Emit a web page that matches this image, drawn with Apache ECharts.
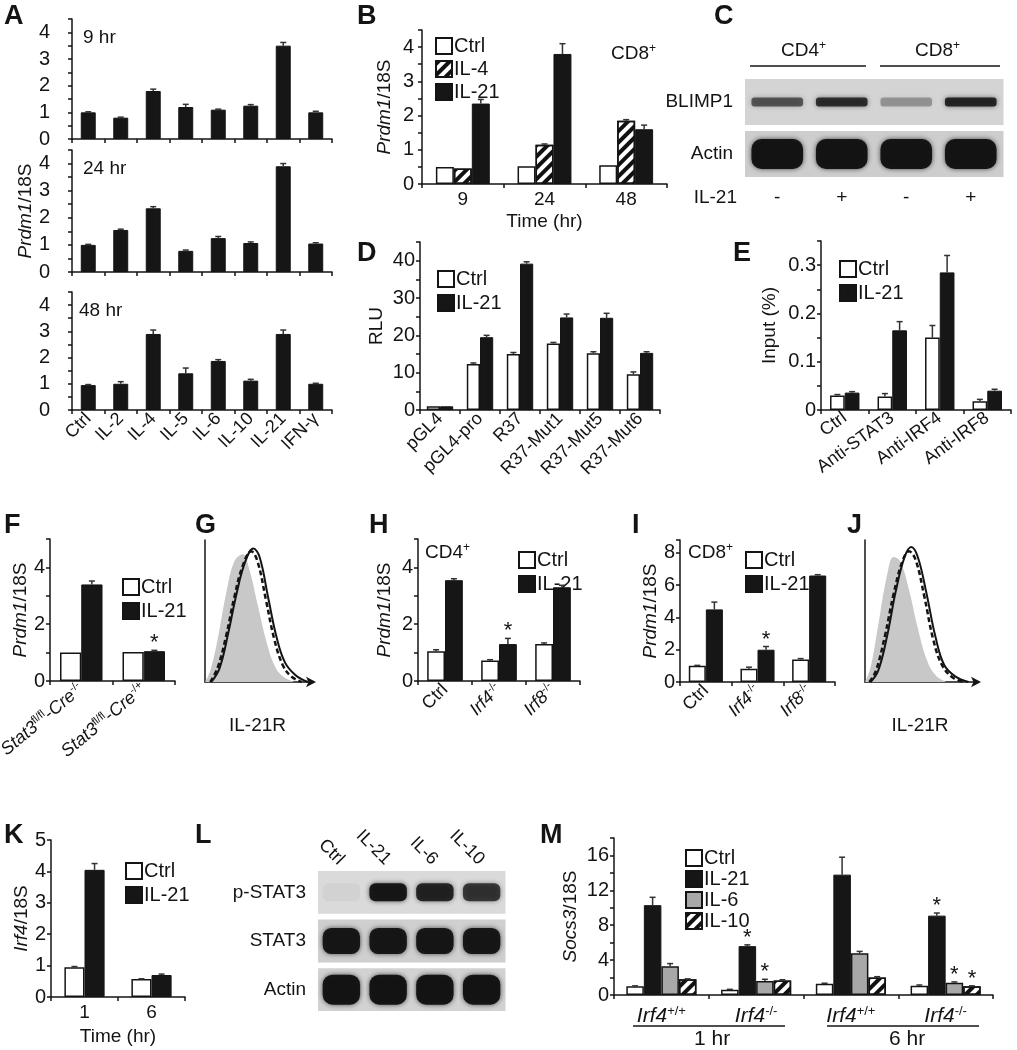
<!DOCTYPE html>
<html>
<head>
<meta charset="utf-8">
<script src="https://cdn.jsdelivr.net/npm/echarts/dist/echarts.min.js"></script>
<style>
  html, body { margin: 0; padding: 0; background: #fff; }
  #fig { width: 1017px; height: 1050px; }
</style>
</head>
<body>
<div id="fig"></div>
<script>
// ---------- data ----------
const cytokines = ['Ctrl', 'IL-2', 'IL-4', 'IL-5', 'IL-6', 'IL-10', 'IL-21', 'IFN-γ'];
const a9 = [1.0, 0.8, 1.8, 1.2, 1.1, 1.25, 3.5, 1.0];
const a9Err = [0.02, 0.02, 0.07, 0.1, 0.02, 0.04, 0.12, 0.04];
const a24 = [1.0, 1.55, 2.35, 0.78, 1.25, 1.07, 3.9, 1.05];
const a24Err = [0.02, 0.03, 0.06, 0.03, 0.06, 0.04, 0.1, 0.03];
const a48 = [0.95, 1.0, 2.9, 1.4, 1.87, 1.12, 2.9, 1.0];
const a48Err = [0.02, 0.08, 0.15, 0.2, 0.05, 0.05, 0.15, 0.02];

const bTimes = ['9', '24', '48'];
const bCtrl = [0.5, 0.52, 0.55];
const bIL4 = [0.45, 1.15, 1.85];
const bIL4Err = [0, 0.02, 0.03];
const bIL21 = [2.35, 3.8, 1.6];
const bIL21Err = [0.12, 0.3, 0.12];

const cLanes = ['-', '+', '-', '+'];
const cRows = ['BLIMP1', 'Actin'];
const cBands = [[0.6, 0.8, 0.3, 0.85], [0.97, 0.97, 0.97, 0.97]];

const dConstructs = ['pGL4', 'pGL4-pro', 'R37', 'R37-Mut1', 'R37-Mut5', 'R37-Mut6'];
const dCtrl = [1, 12.3, 15, 17.8, 15.2, 9.6];
const dCtrlErr = [0, 0.3, 0.4, 0.3, 0.4, 0.6];
const dIL21 = [1, 19.5, 39.2, 24.8, 24.7, 15.3];
const dIL21Err = [0, 0.5, 0.5, 0.9, 1.2, 0.3];

const eAntibodies = ['Ctrl', 'Anti-STAT3', 'Anti-IRF4', 'Anti-IRF8'];
const eCtrl = [0.03, 0.028, 0.15, 0.018];
const eCtrlErr = [0.002, 0.006, 0.025, 0.004];
const eIL21 = [0.036, 0.165, 0.285, 0.04];
const eIL21Err = [0.002, 0.018, 0.035, 0.003];

const fMice = ['Stat3fl/fl-Cre-/-', 'Stat3fl/fl-Cre-/+'];
const fCtrl = [1.0, 1.02];
const fIL21 = [3.4, 1.05];
const fIL21Err = [0.12, 0.03];
const fStar = [0, 1];

// flow histograms: [IL-21R intensity, % of max]
const gIsotype = [[0, 0], [5, 8], [12, 30], [20, 62], [28, 85], [36, 90], [42, 80], [50, 55], [58, 30], [66, 12], [74, 4], [85, 0]];
const gDashed = [[5, 0], [12, 10], [20, 32], [28, 60], [36, 82], [44, 92], [50, 85], [58, 58], [66, 30], [74, 12], [82, 4], [92, 0]];
const gSolid = [[6, 0], [14, 10], [22, 34], [30, 62], [38, 84], [46, 94], [52, 88], [60, 60], [68, 32], [76, 14], [86, 5], [98, 0]];
const jIsotype = [[0, 0], [5, 10], [12, 40], [20, 75], [26, 88], [32, 85], [40, 65], [48, 38], [56, 16], [64, 5], [74, 0]];
const jDashed = [[4, 0], [10, 8], [18, 32], [26, 62], [34, 85], [40, 92], [46, 86], [54, 60], [62, 30], [70, 12], [80, 3], [90, 0]];
const jSolid = [[5, 0], [12, 8], [20, 32], [28, 64], [36, 88], [42, 95], [48, 88], [56, 62], [64, 32], [72, 12], [82, 4], [94, 0]];

const hMice = ['Ctrl', 'Irf4-/-', 'Irf8-/-'];
const hCtrl = [1.05, 0.72, 1.3];
const hCtrlErr = [0.05, 0.03, 0.04];
const hIL21 = [3.55, 1.3, 3.3];
const hIL21Err = [0.05, 0.2, 0.07];
const hStar = [0, 1, 0];

const iCtrl = [1.0, 0.82, 1.4];
const iCtrlErr = [0.03, 0.1, 0.05];
const iIL21 = [4.5, 2.0, 6.6];
const iIL21Err = [0.45, 0.2, 0.05];
const iStar = [0, 1, 0];

const kTimes = ['1', '6'];
const kCtrl = [0.95, 0.57];
const kCtrlErr = [0.02, 0.01];
const kIL21 = [4.05, 0.7];
const kIL21Err = [0.2, 0.03];

const lLanes = ['Ctrl', 'IL-21', 'IL-6', 'IL-10'];
const lRows = ['p-STAT3', 'STAT3', 'Actin'];
const lBands = [[0.04, 0.95, 0.85, 0.75], [0.95, 0.95, 0.95, 0.95], [0.97, 0.97, 0.97, 0.97]];

const mGroups = ['Irf4+/+', 'Irf4-/-', 'Irf4+/+', 'Irf4-/-'];
const mCtrl = [1.0, 0.6, 1.3, 1.05];
const mCtrlErr = [0.05, 0.05, 0.05, 0.1];
const mIL21 = [10.3, 5.6, 13.8, 9.1];
const mIL21Err = [0.9, 0.15, 2.0, 0.3];
const mIL21Star = [0, 1, 0, 1];
const mIL6 = [3.3, 1.6, 4.8, 1.4];
const mIL6Err = [0.3, 0.2, 0.2, 0.1];
const mIL6Star = [0, 1, 0, 1];
const mIL10 = [1.8, 1.65, 2.0, 1.0];
const mIL10Err = [0.05, 0.1, 0.1, 0.05];
const mIL10Star = [0, 0, 0, 1];

// ---------- helpers ----------
const FONT = '"Liberation Sans", Arial, sans-serif';
const INK = '#141414';

const rich = {
  n: { fontSize: 18, fontFamily: FONT, color: INK },
  i: { fontSize: 18, fontFamily: FONT, color: INK, fontStyle: 'italic' },
  s: { fontSize: 11, fontFamily: FONT, color: INK, padding: [0, 0, 9, 0] }
};
const richName = {
  n: { fontSize: 19, fontFamily: FONT, color: INK },
  i: { fontSize: 19, fontFamily: FONT, color: INK, fontStyle: 'italic' }
};

function genoLabel(v) {
  let m = v.match(/^Stat3fl\/fl-Cre(.*)$/);
  if (m) return '{i|Stat3}{s|fl/fl}{n|-}{i|Cre}{s|' + m[1] + '}';
  m = v.match(/^(Irf\d)(.*)$/);
  if (m) return '{i|' + m[1] + '}{s|' + m[2] + '}';
  return '{n|' + v + '}';
}

const styles = {
  ctrl: { color: '#fff', borderColor: INK, borderWidth: 1.5 },
  black: { color: '#161616', borderColor: INK, borderWidth: 1 },
  gray: { color: '#a8a8a8', borderColor: INK, borderWidth: 1.5 },
  hatch: {
    color: '#fff', borderColor: INK, borderWidth: 1.5,
    decal: { symbol: 'rect', symbolSize: 1, dashArrayX: [1, 0], dashArrayY: [4, 4], rotation: -Math.PI / 4, color: '#111', backgroundColor: 'rgba(0,0,0,0)' }
  }
};

const grids = [], xAxes = [], yAxes = [], series = [], legends = [];

function addGrid(box) {
  grids.push(Object.assign({ outerBoundsMode: 'none', containLabel: false }, box));
  return grids.length - 1;
}

function valueY(gi, max, interval, labelStep, extra, margin) {
  const ax = {
    type: 'value', gridIndex: gi, min: 0, max: max, interval: interval,
    axisLine: { show: true, lineStyle: { color: INK, width: 1.5 } },
    axisTick: { show: true, length: 4, lineStyle: { color: INK, width: 1.5 } },
    splitLine: { show: false },
    axisLabel: {
      color: INK, fontSize: 20, fontFamily: FONT, margin: margin || 5,
      formatter: function (v) {
        const r = Math.round(v * 1000) / 1000;
        if (Math.abs(r / labelStep - Math.round(r / labelStep)) > 1e-6) return '';
        return String(r);
      }
    },
    nameLocation: 'middle', nameRotate: 90,
    nameTextStyle: { rich: richName, fontSize: 19, fontFamily: FONT, color: INK }
  };
  return Object.assign(ax, extra || {});
}

function catX(gi, data, labelExtra, extra) {
  return Object.assign({
    type: 'category', gridIndex: gi, data: data,
    axisLine: { show: true, lineStyle: { color: INK, width: 1.5 } },
    axisTick: { show: true, length: 4, lineStyle: { color: INK, width: 1.5 } },
    axisLabel: Object.assign({ color: INK, fontSize: 19, fontFamily: FONT, interval: 0, margin: 6, rich: rich }, labelExtra || {}),
    nameTextStyle: { fontSize: 19, fontFamily: FONT, color: INK }
  }, extra || {});
}

function bar(gi, name, data, style, gap) {
  return {
    type: 'bar', name: name, xAxisIndex: gi, yAxisIndex: gi, data: data,
    barGap: '0%', barCategoryGap: gap + '%', itemStyle: style, silent: true, z: 2
  };
}

function errBars(gi, vals, errs, idx, n, gap, stars) {
  const g = gap / 100;
  return {
    type: 'custom', xAxisIndex: gi, yAxisIndex: gi, silent: true, z: 10,
    encode: { x: 0, y: 1 },
    data: vals.map(function (v, k) { return [k, v, errs[k], stars ? stars[k] : 0]; }),
    renderItem: function (params, api) {
      const k = api.value(0), v = api.value(1), e = api.value(2), s = api.value(3);
      const band = api.size([1, 0])[0];
      const bw = band * (1 - g) / n;
      const p = api.coord([k, v]);
      const x = p[0] - bw * n / 2 + bw * (idx + 0.5);
      const yt = api.coord([k, v + e])[1];
      const ch = [];
      if (e > 0) {
        ch.push({ type: 'line', shape: { x1: x, y1: p[1], x2: x, y2: yt }, style: { stroke: '#333', lineWidth: 1.5 } });
        ch.push({ type: 'line', shape: { x1: x - 3, y1: yt, x2: x + 3, y2: yt }, style: { stroke: '#333', lineWidth: 1.5 } });
      }
      if (s) {
        ch.push({ type: 'text', x: x, y: yt + 4, style: { text: '*', font: '22px ' + FONT, fill: INK, align: 'center', verticalAlign: 'bottom' } });
      }
      return { type: 'group', children: ch };
    }
  };
}

function blot(gi, matrix, bg, bandH, fill) {
  const data = [];
  matrix.forEach(function (row, r) { row.forEach(function (I, l) { data.push([l, r, I]); }); });
  return {
    type: 'custom', xAxisIndex: gi, yAxisIndex: gi, silent: true, encode: { x: 0, y: 1 }, data: data,
    renderItem: function (params, api) {
      const l = api.value(0), r = api.value(1), I = api.value(2);
      const c = api.coord([l, r]);
      const sz = api.size([1, 1]);
      const w = sz[0], h = sz[1] * fill, bh = bandH[r];
      return {
        type: 'group', children: [
          { type: 'rect', shape: { x: c[0] - w / 2, y: c[1] - h / 2, width: w + 0.5, height: h }, style: { fill: bg[r] } },
          {
            type: 'rect', shape: { x: c[0] - w * 0.4, y: c[1] - bh / 2, width: w * 0.8, height: bh, r: bh / 3 },
            style: { fill: 'rgba(18,18,18,' + I + ')', shadowBlur: 5, shadowColor: 'rgba(0,0,0,' + (I * 0.7) + ')' }
          }
        ]
      };
    }
  };
}

function histo(gi, iso, dashed, solid) {
  return [
    { type: 'line', xAxisIndex: gi, yAxisIndex: gi, data: iso, smooth: 0.4, showSymbol: false, silent: true,
      lineStyle: { width: 0 }, areaStyle: { color: '#c8c8c8', opacity: 1 } },
    { type: 'line', xAxisIndex: gi, yAxisIndex: gi, data: dashed, smooth: 0.4, showSymbol: false, silent: true,
      lineStyle: { width: 2.5, color: INK, type: [5, 3] } },
    { type: 'line', xAxisIndex: gi, yAxisIndex: gi, data: solid, smooth: 0.4, showSymbol: false, silent: true,
      lineStyle: { width: 2, color: INK } }
  ];
}

function histoAxes(gi) {
  xAxes.push({
    type: 'value', gridIndex: gi, min: 0, max: 100,
    axisLine: { show: true, lineStyle: { color: INK, width: 1.5 }, symbol: ['none', 'arrow'], symbolSize: [8, 10], symbolOffset: [0, 6] },
    axisTick: { show: false }, axisLabel: { show: false }, splitLine: { show: false },
    name: 'IL-21R', nameLocation: 'middle', nameGap: 34,
    nameTextStyle: { fontSize: 19, fontFamily: FONT, color: INK }
  });
  yAxes.push({
    type: 'value', gridIndex: gi, min: 0, max: 100,
    axisLine: { show: true, lineStyle: { color: INK, width: 1.5 } },
    axisTick: { show: false }, axisLabel: { show: false }, splitLine: { show: false }
  });
}

function legend(left, top, names, gap) {
  return {
    left: left, top: top, orient: 'vertical', data: names, selectedMode: false,
    icon: 'rect', itemWidth: 16, itemHeight: 16, itemGap: gap == null ? 4 : gap,
    textStyle: { fontSize: 20, fontFamily: FONT, color: INK, padding: [0, 0, 0, -3] },
    itemStyle: { borderColor: INK, borderWidth: 2 }
  };
}

// ---------- panel A ----------
const aSets = [[a9, a9Err], [a24, a24Err], [a48, a48Err]];
const aBoxes = [{ left: 72, top: 19, width: 260, height: 120 }, { left: 72, top: 150, width: 260, height: 122 }, { left: 72, top: 292, width: 260, height: 118 }];
aSets.forEach(function (set, j) {
  const gi = addGrid(aBoxes[j]);
  xAxes.push(catX(gi, cytokines, j === 2 ? { rotate: 45, fontSize: 18 } : { show: false }));
  yAxes.push(valueY(gi, 4.5, 0.5, 1, j === 1 ? { name: '{i|Prdm1}/18S', nameGap: 36 } : {}, 22));
  series.push(bar(gi, 'A' + j, set[0], styles.black, 54));
  series.push(errBars(gi, set[0], set[1], 0, 1, 54));
});

// ---------- panel B ----------
let gi = addGrid({ left: 422, top: 30, width: 245, height: 154 });
xAxes.push(catX(gi, bTimes, {}, { name: 'Time (hr)', nameLocation: 'middle', nameGap: 28 }));
yAxes.push(valueY(gi, 4.5, 0.5, 1, { name: '{i|Prdm1}/18S', nameGap: 28 }, 8));
series.push(bar(gi, 'Ctrl', bCtrl, styles.ctrl, 34), bar(gi, 'IL-4', bIL4, styles.hatch, 34), bar(gi, 'IL-21', bIL21, styles.black, 34));
series.push(errBars(gi, bIL4, bIL4Err, 1, 3, 34), errBars(gi, bIL21, bIL21Err, 2, 3, 34));
legends.push(legend(430, 31, ['Ctrl', 'IL-4', 'IL-21'], 3));

// ---------- panel C (blot) ----------
gi = addGrid({ left: 745, top: 76, width: 258, height: 104 });
xAxes.push({
  type: 'category', gridIndex: gi, data: cLanes, axisLine: { show: false }, axisTick: { show: false },
  axisLabel: { color: INK, fontSize: 19, fontFamily: FONT, margin: 8 },
  name: 'IL-21', nameLocation: 'start', nameGap: 8, nameTextStyle: { fontSize: 19, fontFamily: FONT, color: INK, verticalAlign: 'top', padding: [8, 0, 0, 0] }
});
yAxes.push({
  type: 'category', gridIndex: gi, data: cRows, inverse: true, axisLine: { show: false }, axisTick: { show: false },
  axisLabel: { color: INK, fontSize: 19, fontFamily: FONT, margin: 12 }
});
series.push(blot(gi, cBands, ['#d4d4d4', '#cdcdcd'], [9, 30], 0.88));

// ---------- panel D ----------
gi = addGrid({ left: 420, top: 242, width: 240, height: 168 });
xAxes.push(catX(gi, dConstructs, { rotate: 45, fontSize: 18 }));
yAxes.push(valueY(gi, 45, 5, 10, { name: 'RLU', nameGap: 34 }));
series.push(bar(gi, 'Ctrl', dCtrl, styles.ctrl, 34), bar(gi, 'IL-21', dIL21, styles.black, 34));
series.push(errBars(gi, dCtrl, dCtrlErr, 0, 2, 34), errBars(gi, dIL21, dIL21Err, 1, 2, 34));
legends.push(legend(432, 264, ['Ctrl', 'IL-21']));

// ---------- panel E ----------
gi = addGrid({ left: 821, top: 241, width: 190, height: 169 });
xAxes.push(catX(gi, eAntibodies, { rotate: 36, fontSize: 18 }));
yAxes.push(valueY(gi, 0.35, 0.05, 0.1, { name: 'Input (%)', nameGap: 42 }));
series.push(bar(gi, 'Ctrl', eCtrl, styles.ctrl, 38), bar(gi, 'IL-21', eIL21, styles.black, 38));
series.push(errBars(gi, eCtrl, eCtrlErr, 0, 2, 38), errBars(gi, eIL21, eIL21Err, 1, 2, 38));
legends.push(legend(834, 254, ['Ctrl', 'IL-21']));

// ---------- panel F ----------
gi = addGrid({ left: 50, top: 539, width: 125, height: 142 });
xAxes.push(catX(gi, fMice, { rotate: 40, formatter: genoLabel }));
yAxes.push(valueY(gi, 5, 1, 2, { name: '{i|Prdm1}/18S', nameGap: 20 }));
series.push(bar(gi, 'Ctrl', fCtrl, styles.ctrl, 32), bar(gi, 'IL-21', fIL21, styles.black, 32));
series.push(errBars(gi, fIL21, fIL21Err, 1, 2, 32, fStar));
legends.push(legend(117, 572, ['Ctrl', 'IL-21']));

// ---------- panel G (flow) ----------
gi = addGrid({ left: 205, top: 540, width: 105, height: 142 });
histoAxes(gi);
series.push.apply(series, histo(gi, gIsotype, gDashed, gSolid));

// ---------- panel H ----------
gi = addGrid({ left: 418, top: 539, width: 162, height: 142 });
xAxes.push(catX(gi, hMice, { rotate: 45, formatter: genoLabel }));
yAxes.push(valueY(gi, 5, 1, 2, { name: '{i|Prdm1}/18S', nameGap: 24 }));
series.push(bar(gi, 'Ctrl', hCtrl, styles.ctrl, 34), bar(gi, 'IL-21', hIL21, styles.black, 34));
series.push(errBars(gi, hCtrl, hCtrlErr, 0, 2, 34), errBars(gi, hIL21, hIL21Err, 1, 2, 34, hStar));
legends.push(legend(513, 545, ['Ctrl', 'IL-21']));

// ---------- panel I ----------
gi = addGrid({ left: 680, top: 540, width: 155, height: 142 });
xAxes.push(catX(gi, hMice, { rotate: 45, formatter: genoLabel }));
yAxes.push(valueY(gi, 8.8, 2, 2, { name: '{i|Prdm1}/18S', nameGap: 18 }));
series.push(bar(gi, 'Ctrl', iCtrl, styles.ctrl, 34), bar(gi, 'IL-21', iIL21, styles.black, 34));
series.push(errBars(gi, iCtrl, iCtrlErr, 0, 2, 34), errBars(gi, iIL21, iIL21Err, 1, 2, 34, iStar));
legends.push(legend(740, 545, ['Ctrl', 'IL-21']));

// ---------- panel J (flow) ----------
gi = addGrid({ left: 865, top: 540, width: 110, height: 142 });
histoAxes(gi);
series.push.apply(series, histo(gi, jIsotype, jDashed, jSolid));

// ---------- panel K ----------
gi = addGrid({ left: 51, top: 840, width: 134, height: 157 });
xAxes.push(catX(gi, kTimes, {}, { name: 'Time (hr)', nameLocation: 'middle', nameGap: 30 }));
yAxes.push(valueY(gi, 5, 1, 1, { name: '{i|Irf4}/18S', nameGap: 20 }));
series.push(bar(gi, 'Ctrl', kCtrl, styles.ctrl, 40), bar(gi, 'IL-21', kIL21, styles.black, 40));
series.push(errBars(gi, kCtrl, kCtrlErr, 0, 2, 40), errBars(gi, kIL21, kIL21Err, 1, 2, 40));
legends.push(legend(120, 856, ['Ctrl', 'IL-21']));

// ---------- panel L (blot) ----------
gi = addGrid({ left: 318, top: 868, width: 187, height: 146 });
xAxes.push({
  type: 'category', gridIndex: gi, data: lLanes, position: 'top', axisLine: { show: false }, axisTick: { show: false },
  axisLabel: { color: INK, fontSize: 18, fontFamily: FONT, rotate: 45, margin: 6 }
});
yAxes.push({
  type: 'category', gridIndex: gi, data: lRows, inverse: true, axisLine: { show: false }, axisTick: { show: false },
  axisLabel: { color: INK, fontSize: 19, fontFamily: FONT, margin: 12 }
});
series.push(blot(gi, lBands, ['#dadada', '#cfcfcf', '#d2d2d2'], [18, 26, 30], 0.88));

// ---------- panel M ----------
gi = addGrid({ left: 614, top: 838, width: 379, height: 157 });
xAxes.push(catX(gi, mGroups, { formatter: genoLabel, fontSize: 20, margin: 10, rich: {
  n: { fontSize: 21, fontFamily: FONT, color: INK },
  i: { fontSize: 21, fontFamily: FONT, color: INK, fontStyle: 'italic' },
  s: { fontSize: 13, fontFamily: FONT, color: INK, padding: [0, 0, 10, 0] }
} }));
yAxes.push(valueY(gi, 18, 2, 4, { name: '{i|Socs3}/18S', nameGap: 34 }));
series.push(bar(gi, 'Ctrl', mCtrl, styles.ctrl, 26), bar(gi, 'IL-21', mIL21, styles.black, 26),
  bar(gi, 'IL-6', mIL6, styles.gray, 26), bar(gi, 'IL-10', mIL10, styles.hatch, 26));
series.push(errBars(gi, mCtrl, mCtrlErr, 0, 4, 26), errBars(gi, mIL21, mIL21Err, 1, 4, 26, mIL21Star),
  errBars(gi, mIL6, mIL6Err, 2, 4, 26, mIL6Star), errBars(gi, mIL10, mIL10Err, 3, 4, 26, mIL10Star));
legends.push(legend(680, 843, ['Ctrl', 'IL-21', 'IL-6', 'IL-10'], 1));

// ---------- annotation text ----------
const letterFont = 'bold 27px ' + FONT;
const letters = [['A', 4, 3], ['B', 357, 3], ['C', 714, 3], ['D', 357, 240], ['E', 733, 240], ['F', 4, 512],
  ['G', 195, 512], ['H', 369, 512], ['I', 632, 512], ['J', 847, 512], ['K', 4, 822], ['L', 195, 822], ['M', 540, 822]];
const graphic = letters.map(function (d) {
  return { type: 'text', left: d[1], top: d[2], style: { text: d[0], font: letterFont, fill: INK } };
});
const supRich = {
  n: { fontSize: 19, fontFamily: FONT, fill: INK, color: INK },
  s: { fontSize: 12, fontFamily: FONT, fill: INK, color: INK, padding: [0, 0, 9, 0] }
};
function note(text, x, y, size) {
  return { type: 'text', left: x, top: y, style: { text: text, font: (size || 19) + 'px ' + FONT, fill: INK, rich: supRich } };
}
graphic.push(note('9 hr', 83, 28), note('24 hr', 83, 159), note('48 hr', 79, 301));
graphic.push(note('{n|CD8}{s|+}', 611, 43));
graphic.push(note('{n|CD4}{s|+}', 781, 40), note('{n|CD8}{s|+}', 915, 40));
graphic.push({ type: 'line', shape: { x1: 750, y1: 66, x2: 866, y2: 66 }, style: { stroke: INK, lineWidth: 1.5 } });
graphic.push({ type: 'line', shape: { x1: 880, y1: 66, x2: 1000, y2: 66 }, style: { stroke: INK, lineWidth: 1.5 } });
graphic.push(note('{n|CD4}{s|+}', 425, 542), note('{n|CD8}{s|+}', 688, 542));
graphic.push({ type: 'line', shape: { x1: 633, y1: 1026, x2: 785, y2: 1026 }, style: { stroke: INK, lineWidth: 1.5 } });
graphic.push({ type: 'line', shape: { x1: 827, y1: 1026, x2: 979, y2: 1026 }, style: { stroke: INK, lineWidth: 1.5 } });
graphic.push(note('1 hr', 694, 1029, 21), note('6 hr', 889, 1029, 21));

const chart = echarts.init(document.getElementById('fig'), null, { renderer: 'canvas' });
chart.setOption({
  animation: false,
  backgroundColor: '#fff',
  textStyle: { fontFamily: FONT },
  grid: grids,
  xAxis: xAxes,
  yAxis: yAxes,
  legend: legends,
  series: series,
  graphic: graphic
});
</script>
</body>
</html>
